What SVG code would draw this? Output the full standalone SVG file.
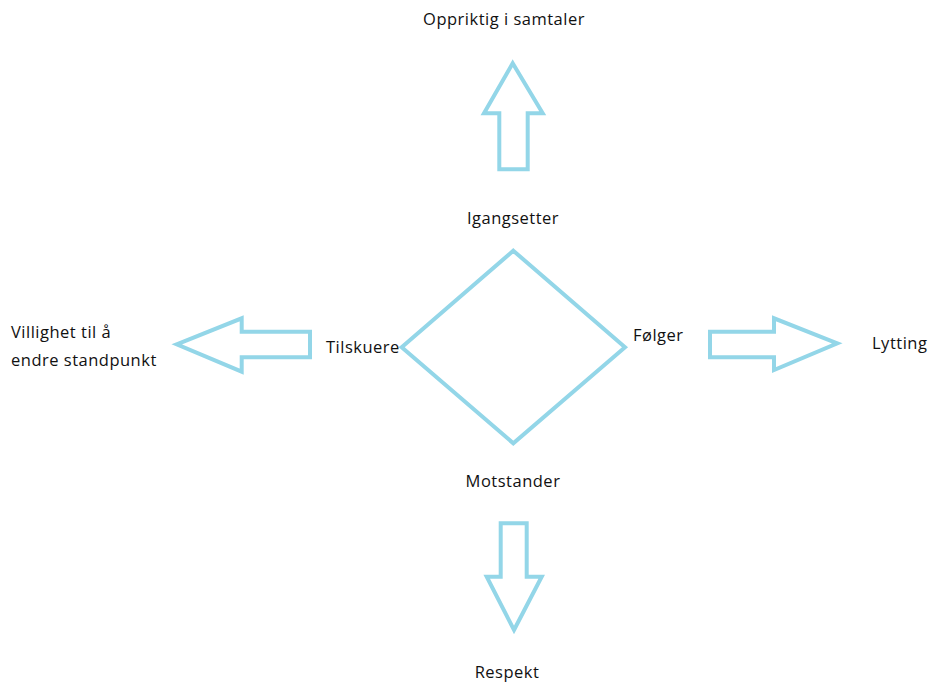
<svg xmlns="http://www.w3.org/2000/svg" width="929" height="682" viewBox="0 0 929 682">
<style>
.s{fill:none;stroke:#93D6E8;stroke-width:4;stroke-linejoin:miter}
text{font-family:"Open Sans","Noto Sans",sans-serif;font-size:16.5px;letter-spacing:0.5px;fill:#111}
.c{text-anchor:middle}
</style>
<rect width="929" height="682" fill="#fff"/>
<g id="diamond">
<polygon class="s" points="513.3,250.7 625,347.3 513.3,443.3 401.7,347.3"/>
</g>
<g id="connectors">
<polygon class="s" points="512.7,63.3 542.7,113.3 527.7,113.3 527.7,169.3 499.3,169.3 499.3,113.3 484,113.3"/>
<polygon class="s" points="176.7,344.3 241.7,318.3 241.7,331.7 310,331.7 310,357.3 241.7,357.3 241.7,371.7"/>
<polygon class="s" points="837.3,343.3 774,318.3 774,331.7 710,331.7 710,357.3 774,357.3 774,370"/>
<polygon class="s" points="514,630 541.7,576.7 526.7,576.7 526.7,523.3 500.7,523.3 500.7,576.7 486.7,576.7"/>
</g>
<g id="n-top"><text class="c" x="504" y="25">Oppriktig i samtaler</text></g>
<g id="n-igang"><text class="c" x="513" y="224">Igangsetter</text></g>
<g id="n-tilsk"><text x="326" y="353">Tilskuere</text></g>
<g id="n-folger"><text x="633" y="341">Følger</text></g>
<g id="n-lytt"><text x="872" y="349">Lytting</text></g>
<g id="n-mot"><text class="c" x="513" y="487">Motstander</text></g>
<g id="n-resp"><text class="c" x="507" y="678">Respekt</text></g>
<g id="n-vill"><text x="11" y="338">Villighet til å</text><text x="11" y="366">endre standpunkt</text></g>
</svg>
